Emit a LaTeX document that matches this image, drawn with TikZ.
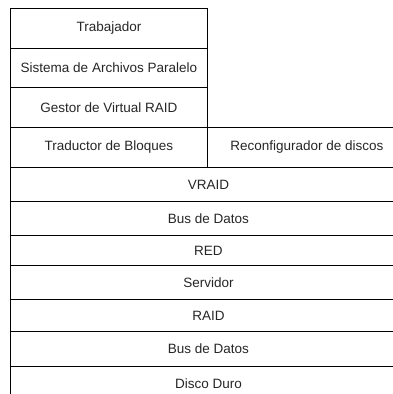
\documentclass[tikz,border=0pt]{standalone}
\usepackage{fontspec}
\setmainfont{Liberation Sans}
\begin{document}
\begin{tikzpicture}[x=1pt,y=-1pt,
  cell/.style={draw=black,line width=0.8pt,rectangle,anchor=north west,inner sep=0pt,
    font=\fontsize{13.5}{15}\selectfont,text=black!85}]
\useasboundingbox (0,0) rectangle (393,394);
\clip (0,0) rectangle (393,394);
\node[cell,minimum width=197pt,minimum height=40pt] (trab) at (10,8) {Trabajador};
\node[cell,minimum width=197pt,minimum height=39pt] (sist) at (10,48) {Sistema de Archivos Paralelo};
\node[cell,minimum width=197pt,minimum height=40pt] (gest) at (10,87) {Gestor de Virtual RAID};
\node[cell,minimum width=197pt,minimum height=40pt] (trad) at (10,127) {Traductor de Bloques};
\node[cell,minimum width=199pt,minimum height=40pt] (reco) at (207,127) {Reconfigurador de discos};
\node[cell,minimum width=396pt,minimum height=34pt] (vraid) at (10,167) {VRAID};
\node[cell,minimum width=396pt,minimum height=34pt] (bus1) at (10,201) {Bus de Datos};
\node[cell,minimum width=396pt,minimum height=30pt] (red) at (10,235) {RED};
\node[cell,minimum width=396pt,minimum height=34pt] (serv) at (10,265) {Servidor};
\node[cell,minimum width=396pt,minimum height=32pt] (raid) at (10,299) {RAID};
\node[cell,minimum width=396pt,minimum height=35pt] (bus2) at (10,331) {Bus de Datos};
\node[cell,minimum width=396pt,minimum height=34pt] (disco) at (10,366) {Disco Duro};
\end{tikzpicture}
\end{document}
